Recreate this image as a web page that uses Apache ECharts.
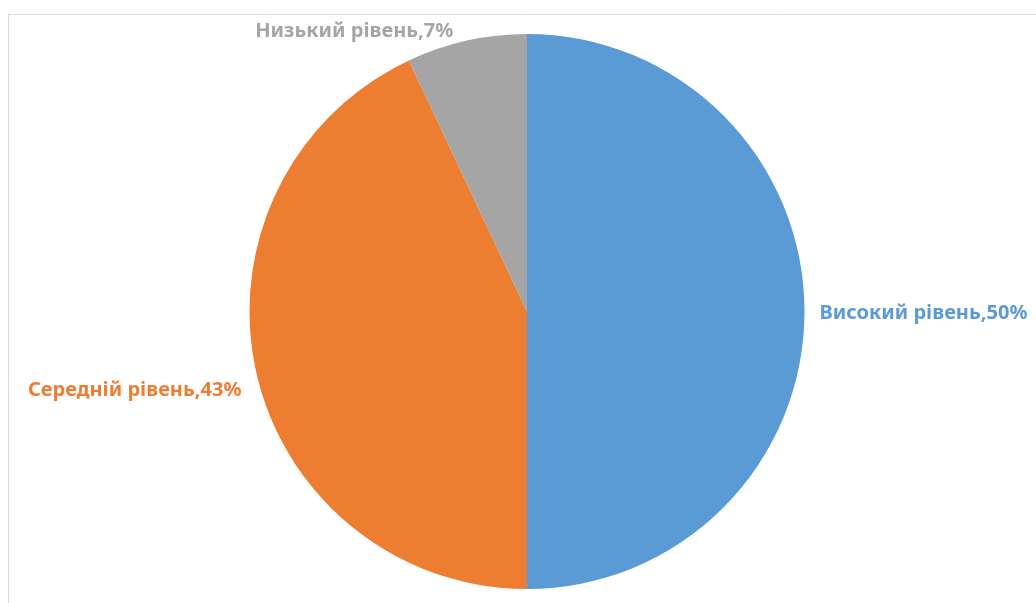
<!DOCTYPE html>
<html><head><meta charset="utf-8">
<script src="https://cdn.jsdelivr.net/npm/echarts@6/dist/echarts.min.js"></script>
<style>html,body{margin:0;padding:0;background:#fff}#c{width:1036px;height:603px}</style>
</head><body><div id="c"></div>
<script>
const categories = ['Високий рівень', 'Середній рівень', 'Низький рівень'];
const values = [50, 43, 7];
const colors = ['#5B9BD5', '#ED7D31', '#A5A5A5'];
const labelShift = [[0, 2], [0, 16], [-6, 0]];

const chart = echarts.init(document.getElementById('c'));
chart.setOption({
  animation: false,
  graphic: [{
    type: 'rect', shape: {x: 8.5, y: 14.5, width: 1100, height: 700},
    style: {fill: 'none', stroke: '#D9D9D9', lineWidth: 1}, silent: true
  }],
  series: [{
    type: 'pie',
    center: [527, 311.5],
    radius: [0, 277.5],
    startAngle: 90,
    clockwise: true,
    data: categories.map((c, i) => ({
      name: c, value: values[i],
      itemStyle: {color: colors[i]},
      label: {color: colors[i]}
    })),
    label: {
      show: true, position: 'outside', overflow: 'none',
      formatter: p => p.name + ',' + p.value + '%',
      fontFamily: 'Noto Sans', fontWeight: 'bold', fontSize: 20
    },
    labelLine: {show: false, length: 10, length2: 0},
    labelLayout: p => ({dx: labelShift[p.dataIndex][0], dy: labelShift[p.dataIndex][1]}),
    itemStyle: {borderWidth: 0}
  }]
});
</script></body></html>
